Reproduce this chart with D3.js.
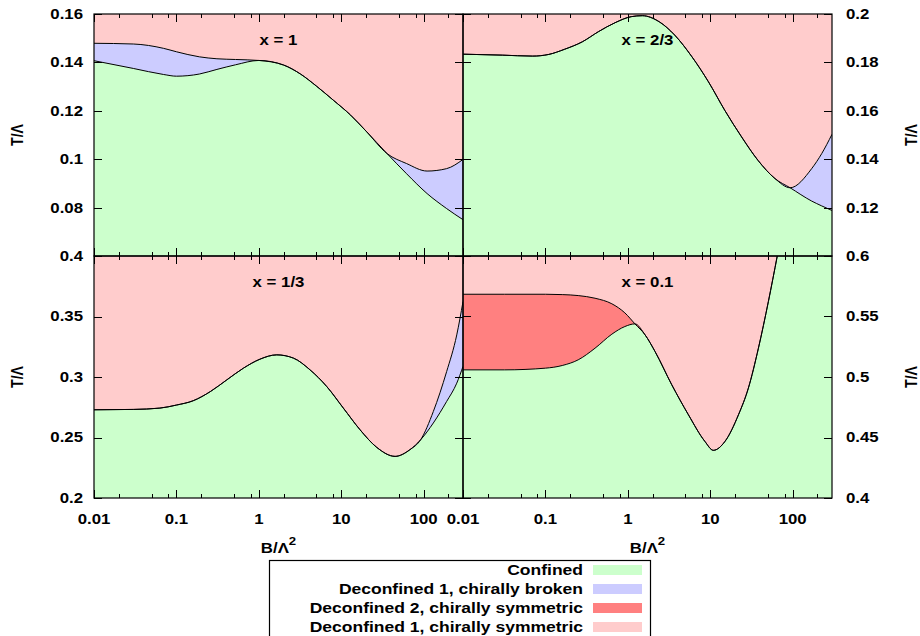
<!DOCTYPE html>
<html><head><meta charset="utf-8">
<script src="https://cdn.jsdelivr.net/npm/d3@7"></script>
<style>
body{margin:0;background:#fff}
text{font-family:"Liberation Sans",Arial,Helvetica,sans-serif;font-weight:bold;fill:#000}
</style>
</head><body>
<svg id="c" width="920" height="636"></svg>
<script>
// ---------- data ----------
const phaseNames = ["Confined","Deconfined 1, chirally broken","Deconfined 2, chirally symmetric","Deconfined 1, chirally symmetric"];
const phaseColors = ["#ccffcc","#ccccff","#ff8080","#ffcccc"];

const xMajor = [0.01,0.1,1,10,100];
const xMajorLabels = ["0.01","0.1","1","10","100"];
const xMinor = [0.02,0.05,0.08,0.2,0.5,0.8,2,5,8,20,50,80,200];

// panel x = 1
const B1    = [0.01,0.03,0.07,0.1,0.19,0.31,0.52,1,2,3.2,5,8,13,20,36,62,110,190,300];
const conf1 = [0.1407,0.1375,0.1350,0.1343,0.1352,0.1371,0.1390,0.1408,0.1389,0.1352,0.1302,0.1244,0.1182,0.1116,0.1023,0.0940,0.0858,0.0796,0.0750];
const chi1  = [0.1479,0.1476,0.1458,0.1444,0.1423,0.1415,0.1412,0.1408,0.1389,0.1352,0.1302,0.1244,0.1182,0.1116,0.1023,0.0982,0.0951,0.0961,0.0999];
const yTicks1 = [0.08,0.1,0.12,0.14,0.16];
const yLabels1 = ["0.08","0.1","0.12","0.14","0.16"];

// panel x = 2/3
const B2    = [0.01,0.03,0.07,0.11,0.17,0.28,0.44,0.7,1.1,1.5,2.4,3.7,6,9.5,15,24,38,61,93,170,225,300];
const conf2 = [0.1834,0.1830,0.1826,0.1833,0.1854,0.1885,0.1927,0.1964,0.1989,0.1993,0.1968,0.1913,0.1823,0.1720,0.1602,0.1492,0.1395,0.1320,0.1282,0.1227,0.1207,0.1188];
const chi2  = [0.1834,0.1830,0.1826,0.1833,0.1854,0.1885,0.1927,0.1964,0.1989,0.1993,0.1968,0.1913,0.1823,0.1720,0.1602,0.1492,0.1395,0.1320,0.1282,0.1361,0.1423,0.1503];
const yTicks2 = [0.12,0.14,0.16,0.18,0.2];
const yLabels2 = ["0.12","0.14","0.16","0.18","0.2"];

// panel x = 1/3
const B3    = [0.01,0.03,0.063,0.1,0.16,0.26,0.41,0.65,1.03,1.65,2.63,4.18,6.67,10.6,16.9,27,45,68,92,131,190,252,300];
const conf3 = [0.2729,0.2732,0.2743,0.2768,0.2804,0.2881,0.2977,0.3073,0.3147,0.3183,0.3156,0.3059,0.2921,0.2743,0.2564,0.2418,0.2344,0.2399,0.2482,0.2620,0.2798,0.2949,0.3087];
const chi3  = [0.2729,0.2732,0.2743,0.2768,0.2804,0.2881,0.2977,0.3073,0.3147,0.3183,0.3156,0.3059,0.2921,0.2743,0.2564,0.2418,0.2344,0.2399,0.2482,0.2715,0.3045,0.3348,0.3623];
const yTicks3 = [0.2,0.25,0.3,0.35,0.4];
const yLabels3 = ["0.2","0.25","0.3","0.35","0.4"];

// panel x = 0.1
const B4    = [0.01,0.032,0.1,0.16,0.25,0.40,0.64,0.92,1.22,1.62,2.14,3.41,5.43,8.6,10.9,15.1,22,29,38.4,50.7,65];
const conf4 = [0.5059,0.5059,0.5073,0.5095,0.5142,0.5238,0.5354,0.5417,0.5439,0.5348,0.5210,0.4936,0.4688,0.4468,0.4394,0.4468,0.4688,0.4908,0.5238,0.5623,0.6000];
const chi4  = [0.5684,0.5684,0.5684,0.5681,0.5673,0.5651,0.5605,0.5530,0.5439,0.5348,0.5210,0.4936,0.4688,0.4468,0.4394,0.4468,0.4688,0.4908,0.5238,0.5623,0.6000];
const yTicks4 = [0.4,0.45,0.5,0.55,0.6];
const yLabels4 = ["0.4","0.45","0.5","0.55","0.6"];

const titles = ["x = 1","x = 2/3","x = 1/3","x = 0.1"];

// ---------- layout ----------
const SX = 1.2; // horizontal stretch of the reference glyphs
const colX = [[94,463],[463,832]];
const rowY = [[14,256],[256,498]];
const svg = d3.select("#c");
const defs = svg.append("defs");

function stretchedText(g, x, y, str, anchor, size, rot){
  return g.append("text")
    .attr("transform", `translate(${x},${y}) scale(${SX},1)` + (rot ? ` rotate(${rot})` : ""))
    .attr("text-anchor", anchor)
    .attr("dy","0.35em")
    .style("font-size", size + "px")
    .text(str);
}

const panels = [
  {B:B1, conf:conf1, chi:chi1, mid:phaseColors[1], dom:[0.06,0.16], ticks:yTicks1, labels:yLabels1, col:0, row:0, title:titles[0]},
  {B:B2, conf:conf2, chi:chi2, mid:phaseColors[1], dom:[0.10,0.20], ticks:yTicks2, labels:yLabels2, col:1, row:0, title:titles[1]},
  {B:B3, conf:conf3, chi:chi3, mid:phaseColors[1], dom:[0.20,0.40], ticks:yTicks3, labels:yLabels3, col:0, row:1, title:titles[2]},
  {B:B4, conf:conf4, chi:chi4, mid:phaseColors[2], dom:[0.40,0.60], ticks:yTicks4, labels:yLabels4, col:1, row:1, title:titles[3]}
];

panels.forEach((p,i)=>{
  const [x0,x1] = colX[p.col], [y0,y1] = rowY[p.row];
  const x = d3.scaleLog().domain([0.01,300]).range([x0,x1]);
  const y = d3.scaleLinear().domain(p.dom).range([y1,y0]);
  p.x = x; p.y = y;
  const cid = "clip"+i;
  defs.append("clipPath").attr("id",cid).append("rect")
    .attr("x",x0).attr("y",y0).attr("width",x1-x0).attr("height",y1-y0);
  const g = svg.append("g").attr("clip-path",`url(#${cid})`);
  const pts = p.B.map((b,k)=>({b, c:p.conf[k], h:p.chi[k]}));
  g.append("rect").attr("x",x0).attr("y",y0).attr("width",x1-x0).attr("height",y1-y0).attr("fill",phaseColors[0]);
  g.append("path").datum(pts).attr("fill",phaseColors[3])
    .attr("d", d3.area().curve(d3.curveMonotoneX).x(d=>x(d.b)).y0(y0).y1(d=>y(d.h)));
  g.append("path").datum(pts).attr("fill",p.mid)
    .attr("d", d3.area().curve(d3.curveMonotoneX).x(d=>x(d.b)).y0(d=>y(d.c)).y1(d=>y(d.h)));
  const lc = d3.line().curve(d3.curveMonotoneX).x(d=>x(d.b)).y(d=>y(d.c));
  const lh = d3.line().curve(d3.curveMonotoneX).x(d=>x(d.b)).y(d=>y(d.h));
  g.append("path").datum(pts).attr("fill","none").attr("stroke","#000").attr("stroke-width",1).attr("d",lc);
  g.append("path").datum(pts).attr("fill","none").attr("stroke","#000").attr("stroke-width",1).attr("d",lh);
  stretchedText(svg, (x0+x1)/2, y0 + 26, p.title, "middle", 14);
});

// ---------- frames and ticks ----------
const fg = svg.append("g").attr("stroke","#000").attr("fill","none");
panels.forEach(p=>{
  const [x0,x1] = colX[p.col], [y0,y1] = rowY[p.row];
  fg.append("rect").attr("x",x0).attr("y",y0).attr("width",x1-x0).attr("height",y1-y0).attr("stroke-width",1.2);
  xMajor.forEach(v=>{
    const xx = Math.round(p.x(v))+0.5;
    fg.append("line").attr("x1",xx).attr("x2",xx).attr("y1",y1).attr("y2",y1-8);
    fg.append("line").attr("x1",xx).attr("x2",xx).attr("y1",y0).attr("y2",y0+8);
  });
  xMinor.forEach(v=>{
    const xx = Math.round(p.x(v))+0.5;
    fg.append("line").attr("x1",xx).attr("x2",xx).attr("y1",y1).attr("y2",y1-4);
    fg.append("line").attr("x1",xx).attr("x2",xx).attr("y1",y0).attr("y2",y0+4);
  });
  p.ticks.forEach(v=>{
    const yy = Math.round(p.y(v))+0.5;
    fg.append("line").attr("x1",x0).attr("x2",x0+8).attr("y1",yy).attr("y2",yy);
    fg.append("line").attr("x1",x1).attr("x2",x1-8).attr("y1",yy).attr("y2",yy);
  });
});

// ---------- tick labels ----------
const tg = svg.append("g");
panels.forEach(p=>{
  const [x0,x1] = colX[p.col];
  p.ticks.forEach((v,k)=>{
    if (p.col===0) stretchedText(tg, 83, p.y(v), p.labels[k], "end", 14);
    else stretchedText(tg, 846, p.y(v), p.labels[k], "start", 14);
  });
  if (p.row===1){
    xMajor.forEach((v,k)=> stretchedText(tg, p.x(v), 519, xMajorLabels[k], "middle", 14));
    const xl = tg.append("text")
      .attr("transform",`translate(${(x0+x1)/2},553) scale(${SX},1)`)
      .attr("text-anchor","middle").style("font-size","14px");
    xl.append("tspan").text("B/Λ");
    xl.append("tspan").attr("dy",-8).style("font-size","11px").text("2");
  }
  const ylx = p.col===0 ? 17.5 : 911;
  stretchedText(tg, ylx, (rowY[p.row][0]+rowY[p.row][1])/2, "T/Λ", "middle", 14, -90);
});

// ---------- legend ----------
const lg = svg.append("g");
lg.append("rect").attr("x",269.5).attr("y",560.5).attr("width",381).attr("height",90)
  .attr("fill","#fff").attr("stroke","#000").attr("stroke-width",1.2);
phaseNames.forEach((name,k)=>{
  const cy = 570 + k*19;
  stretchedText(lg, 583, cy, name, "end", 14.6);
  lg.append("rect").attr("x",593).attr("y",cy-5).attr("width",49).attr("height",10).attr("fill",phaseColors[k]);
});
</script>
</body></html>
